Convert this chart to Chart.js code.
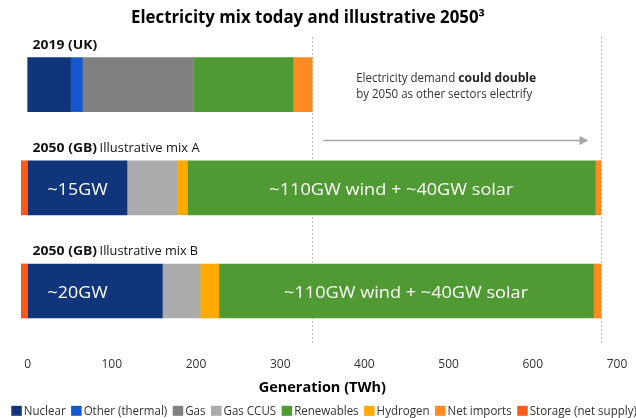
<!DOCTYPE html>
<html><head><meta charset="utf-8">
<script src="https://cdn.jsdelivr.net/npm/chart.js@4/dist/chart.umd.min.js"></script>
<style>html,body{margin:0;padding:0;background:#fff;overflow:hidden}canvas{display:block}</style>
</head><body>
<canvas id="c" width="636" height="418"></canvas>
<script>
// ---------- data ----------
const categories = ['2019 (UK)', '2050 (GB) Illustrative mix A', '2050 (GB) Illustrative mix B'];
const rowBold = ['2019 (UK)', '2050 (GB)', '2050 (GB)'];
const rowRest = ['', 'Illustrative mix A', 'Illustrative mix B'];
const storage      = [0, -7, -7];
const nuclear      = [51, 118, 160];
const otherThermal = [14, 0, 0];
const gas          = [132, 0, 0];
const gasCCUS      = [0, 59, 45];
const hydrogen     = [0, 13, 22];
const renewables   = [118, 484, 445];
const netImports   = [23, 7, 9];
const nuclearCapacity    = ['', '~15GW', '~20GW'];
const renewablesCapacity = ['', '~110GW wind + ~40GW solar', '~110GW wind + ~40GW solar'];
const xTicks = [0, 100, 200, 300, 400, 500, 600, 700];
const chartTitle = 'Electricity mix today and illustrative 2050\u00B3';
const axisTitle = 'Generation (TWh)';
const noteLine1a = 'Electricity demand ';
const noteLine1b = 'could double';
const noteLine2 = 'by 2050 as other sectors electrify';

const COL = {
  nuclear: '#11357A', other: '#1457CF', gas: '#808080', ccus: '#ABABAB',
  ren: '#4F9A32', h2: '#FFAA00', imp: '#FF8A22', sto: '#FF5A1A'
};
// stacking order (left to right)
const datasets = [
  {label: 'Storage (net supply)', data: storage, backgroundColor: COL.sto},
  {label: 'Nuclear', data: nuclear, backgroundColor: COL.nuclear},
  {label: 'Other (thermal)', data: otherThermal, backgroundColor: COL.other},
  {label: 'Gas', data: gas, backgroundColor: COL.gas},
  {label: 'Gas CCUS', data: gasCCUS, backgroundColor: COL.ccus},
  {label: 'Hydrogen', data: hydrogen, backgroundColor: COL.h2},
  {label: 'Renewables', data: renewables, backgroundColor: COL.ren},
  {label: 'Net imports', data: netImports, backgroundColor: COL.imp}
];
const legendOrder = ['Nuclear', 'Other (thermal)', 'Gas', 'Gas CCUS', 'Renewables', 'Hydrogen', 'Net imports', 'Storage (net supply)'];

const FF = '"Open Sans", "Noto Sans", sans-serif';

function fitText(ctx, text, x, y, font, width, color) {
  ctx.save();
  ctx.font = font; ctx.fillStyle = color;
  ctx.textBaseline = 'alphabetic'; ctx.textAlign = 'left';
  const w = ctx.measureText(text).width;
  const k = width ? width / w : 1;
  ctx.translate(x, y); ctx.scale(k, 1);
  ctx.fillText(text, 0, 0);
  ctx.restore();
}
function positiveTotal(i) {
  return datasets.reduce((s, d) => s + Math.max(0, d.data[i]), 0);
}
function segment(chart, label, i) {
  const di = datasets.findIndex(d => d.label === label);
  return chart.getDatasetMeta(di).data[i];
}

const overlay = {
  id: 'overlay',
  beforeDatasetsDraw(chart) {
    const ctx = chart.ctx, xs = chart.scales.x, ca = chart.chartArea;
    ctx.save();
    ctx.strokeStyle = '#BDBDBD'; ctx.lineWidth = 1; ctx.setLineDash([2, 2]);
    [0, 1].forEach(i => {
      const px = Math.round(xs.getPixelForValue(positiveTotal(i))) + 0.5;
      ctx.beginPath(); ctx.moveTo(px, ca.top + 4); ctx.lineTo(px, ca.bottom + 1.5); ctx.stroke();
    });
    ctx.restore();
  },
  afterDatasetsDraw(chart) {
    const ctx = chart.ctx, xs = chart.scales.x;
    const d1 = xs.getPixelForValue(positiveTotal(0));
    const d2 = xs.getPixelForValue(positiveTotal(1));
    // row labels
    categories.forEach((c, i) => {
      const el = segment(chart, 'Nuclear', i);
      const top = el.y - el.height / 2;
      const x0 = xs.getPixelForValue(0) + 5;
      const bl = top - 9;
      fitText(ctx, rowBold[i], x0, bl, 'bold 13px ' + FF, 64.5, '#111');
      if (rowRest[i]) fitText(ctx, rowRest[i], x0 + 67, bl, '13px ' + FF, i === 1 ? 100 : 98.5, '#111');
    });
    // in-bar labels
    categories.forEach((c, i) => {
      const n = segment(chart, 'Nuclear', i);
      if (nuclearCapacity[i]) {
        fitText(ctx, nuclearCapacity[i], xs.getPixelForValue(0) + 20, n.y + 7, '16.5px ' + FF, 60, '#FFFFFF');
      }
      const r = segment(chart, 'Renewables', i);
      if (renewablesCapacity[i]) {
        const cx = (r.x + r.base) / 2;
        fitText(ctx, renewablesCapacity[i], cx - 122, r.y + 7, '16.5px ' + FF, 244, '#FFFFFF');
      }
    });
    // annotation text
    const e0 = segment(chart, 'Nuclear', 0);
    const tx = d1 + 44;
    fitText(ctx, noteLine1a, tx, e0.y - 2.5, '12px ' + FF, 102, '#333');
    fitText(ctx, noteLine1b, tx + 102, e0.y - 2.5, 'bold 12px ' + FF, 78, '#222');
    fitText(ctx, noteLine2, tx, e0.y + 13, '12px ' + FF, 176, '#333');
    // arrow
    const eA = segment(chart, 'Nuclear', 1);
    const ay = Math.round(eA.y - eA.height / 2 - 20.5) + 0.5;
    const ax0 = d1 + 11, tip = d2 - 12.5;
    ctx.save();
    ctx.strokeStyle = '#A6A6A6'; ctx.fillStyle = '#A6A6A6'; ctx.lineWidth = 1.3;
    ctx.beginPath(); ctx.moveTo(ax0, ay); ctx.lineTo(tip - 8, ay); ctx.stroke();
    ctx.beginPath(); ctx.moveTo(tip, ay); ctx.lineTo(tip - 9, ay - 4.5); ctx.lineTo(tip - 9, ay + 4.5); ctx.closePath(); ctx.fill();
    ctx.restore();
  },
  afterDraw(chart) {
    const ctx = chart.ctx;
    // title
    fitText(ctx, chartTitle, 131, 23.3, 'bold 17px ' + FF, 354, '#000');
    // legend
    ctx.save();
    ctx.font = '12.5px ' + FF;
    const natural = legendOrder.map(t => ctx.measureText(t).width);
    const T = natural.slice(0, 7).reduce((a, b) => a + b, 0);
    const k = 379.9 / T;
    ctx.restore();
    let x = 11.3;
    const cy = 410.8;
    legendOrder.forEach((name, i) => {
      const ds = datasets.find(d => d.label === name);
      ctx.fillStyle = ds.backgroundColor;
      ctx.fillRect(x, cy - 5, 10.5, 10);
      const w = natural[i] * k;
      fitText(ctx, name, x + 12.5, cy + 4.5, '12.5px ' + FF, w, '#333');
      x += 12.5 + w + 5.5;
    });
  }
};

new Chart(document.getElementById('c'), {
  type: 'bar',
  data: {labels: categories, datasets: datasets.map(d => Object.assign({borderWidth: 0, barThickness: 54, clip: false}, d))},
  options: {
    indexAxis: 'y',
    responsive: false,
    animation: false,
    devicePixelRatio: 1,
    layout: {padding: {left: 27.6, right: 19, top: 33, bottom: 21.6}},
    plugins: {legend: {display: false}, tooltip: {enabled: false}, title: {display: false}},
    scales: {
      y: {stacked: true, display: false},
      x: {
        stacked: true, min: 0, max: 700,
        grid: {display: false, drawTicks: true, tickLength: 12.2},
        border: {display: false},
        afterBuildTicks: s => { s.ticks = xTicks.map(v => ({value: v})); },
        ticks: {padding: 3, color: '#333', font: {family: FF, size: 12}},
        title: {display: true, text: axisTitle, color: '#000', font: {family: FF, size: 14.5, weight: 'bold'}, padding: {top: 3.8, bottom: 0}}
      }
    }
  },
  plugins: [overlay]
});
</script>
</body></html>
